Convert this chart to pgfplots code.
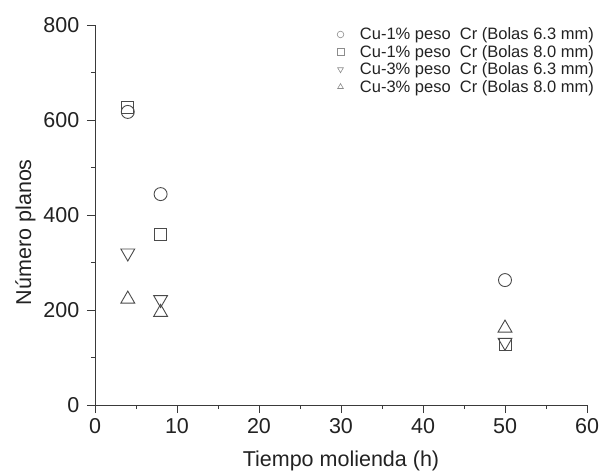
\documentclass[border=0pt]{standalone}
\usepackage{pgfplots}
\pgfplotsset{compat=1.18}
\usepackage{fontspec}
\setmainfont{Liberation Sans}
\definecolor{mk}{HTML}{4A4A4A}
\definecolor{ax}{HTML}{3A3A3A}
\definecolor{tx}{HTML}{222222}
\begin{document}
\begin{tikzpicture}
\begin{axis}[
  scale only axis,
  width=492pt, height=380pt,
  xmin=0, xmax=60, ymin=0, ymax=800,
  xtick={0,10,...,60}, ytick={0,200,...,800},
  minor xtick={5,15,...,55}, minor ytick={100,300,...,700},
  axis x line*=bottom, axis y line*=left,
  axis line style={ax, line width=0.9pt, -},
  tick align=outside,
  major tick length=8pt, minor tick length=4pt,
  tick style={ax, line width=0.9pt},
  /pgf/number format/assume math mode=true,
  ticklabel style={font=\fontsize{21.5}{24}\selectfont, text=tx},
  xticklabel style={inner sep=5pt},
  yticklabel style={inner sep=7pt, xshift=-0.5pt},
  label style={font=\fontsize{21.5}{24}\selectfont, text=tx},
  xlabel={Tiempo molienda (h)},
  ylabel={Número planos},
  xlabel style={at={(axis description cs:0.5,-0.162)}, anchor=base},
  ylabel style={at={(axis description cs:-0.13,0.455)}, anchor=base, rotate=0},
  legend style={draw=none, fill=none, at={(0.492,0.998)}, anchor=north west,
    inner sep=0pt, outer sep=0pt,
    font=\fontsize{16.5}{19}\selectfont, text=tx, row sep=0pt,
    legend cell align=left},
  legend image code/.code={\path (-3pt,0pt) (17pt,0pt); \draw[#1, mark size=3.3pt, draw=gray!90, line width=0.6pt] plot coordinates {(0pt,0pt)};},
  every axis plot/.append style={only marks, draw=mk, line width=0.9pt, fill=none},
]
\addplot[mark=o, mark size=6.5pt, draw=mk] coordinates {(4,617) (8,444) (50,263)};
\addlegendentry{Cu-1\% peso\ \ Cr (Bolas 6.3 mm)}
\addplot[mark=square, mark size=6pt, draw=mk] coordinates {(4,627) (8,360) (50,128)};
\addlegendentry{Cu-1\% peso\ \ Cr (Bolas 8.0 mm)}
\addplot[mark=triangle, mark options={rotate=180}, mark size=8pt, draw=mk] coordinates {(4,320) (8,222) (50,132)};
\addlegendentry{Cu-3\% peso\ \ Cr (Bolas 6.3 mm)}
\addplot[mark=triangle, mark size=8pt, draw=mk] coordinates {(4,223) (8,195) (50,162)};
\addlegendentry{Cu-3\% peso\ \ Cr (Bolas 8.0 mm)}
\end{axis}
\pgfresetboundingbox
\path ([shift={(-95pt,-68pt)}]current axis.south west) rectangle ([shift={(19pt,25pt)}]current axis.north east);
\end{tikzpicture}
\end{document}
